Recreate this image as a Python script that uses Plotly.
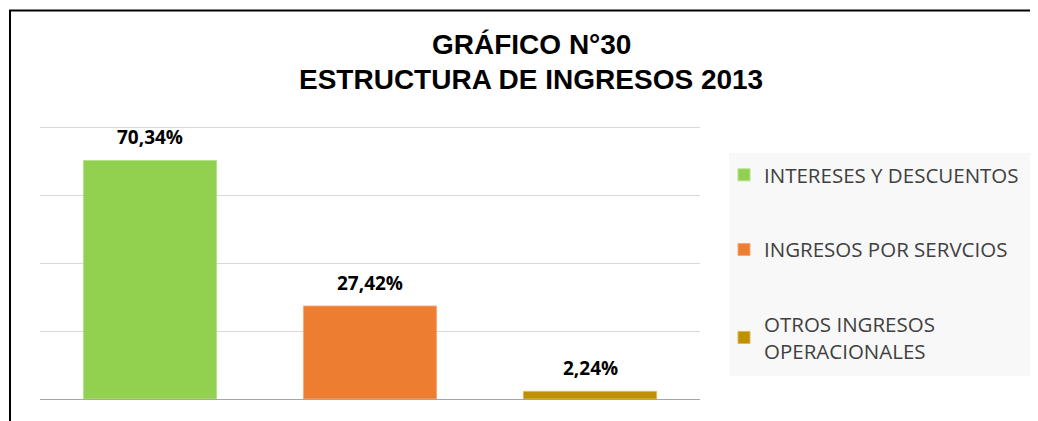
import plotly.graph_objects as go

categories = ["INTERESES Y DESCUENTOS", "INGRESOS POR SERVCIOS", "OTROS INGRESOS OPERACIONALES"]
legend_names = ["INTERESES Y DESCUENTOS", "INGRESOS POR SERVCIOS", "OTROS INGRESOS<br>OPERACIONALES"]
values = [70.34, 27.42, 2.24]
colors = ["#92D050", "#ED7D31", "#BF9000"]
line_colors = ["#B5E08A", "#F4A878", "#D9B85A"]
title_lines = ["GRÁFICO N°30", "ESTRUCTURA DE INGRESOS 2013"]

OFF = 8  # default page margin of the html body
W, H = 1038 - OFF, 421 - OFF
Y_MAX = 80.5
plot_left, plot_right, base_y = 40, 700, 399
ph = 271 * Y_MAX / 80
L = plot_left - OFF
R = 1038 - plot_right
B = 421 - base_y
T = int(round(base_y - ph - OFF))
ph = H - T - B
pw = W - L - R


def px_x(p):  # screen pixel -> paper x
    return (p - OFF - L) / pw


def px_y(p):  # screen pixel -> paper y
    return (H - B - (p - OFF)) / ph


fig = go.Figure()
for i, (cat, name, v, c, lc) in enumerate(zip(categories, legend_names, values, colors, line_colors)):
    fig.add_trace(go.Bar(
        x=[cat], y=[v], name=name, width=0.605,
        marker=dict(color=c, line=dict(color=lc, width=1)),
        legendgroup=f"g{i}", hoverinfo="skip",
    ))
    fig.add_annotation(
        x=cat, y=v, text=f"<b>{v:.2f}%</b>".replace(".", ","),
        showarrow=False, yanchor="bottom", yshift=8,
        font=dict(family="Open Sans", size=19, color="#000000"),
    )

# title lines
for line, yc in zip(title_lines, [45, 80]):
    fig.add_annotation(
        xref="paper", yref="paper", x=px_x(531), y=px_y(yc),
        xanchor="center", yanchor="middle", showarrow=False,
        text=f"<b>{line}</b>",
        font=dict(family="Liberation Sans", size=28, color="#000000"),
    )

# legend background box
fig.add_shape(type="rect", xref="paper", yref="paper", layer="below",
              x0=px_x(729), x1=px_x(1034), y0=px_y(153), y1=px_y(376),
              fillcolor="#F8F8F8", line=dict(width=0))

# outer border (top and left lines)
fig.add_shape(type="line", xref="paper", yref="paper",
              x0=px_x(9), x1=px_x(1045), y0=px_y(10.5), y1=px_y(10.5),
              line=dict(color="#000000", width=2))
fig.add_shape(type="line", xref="paper", yref="paper",
              x0=px_x(10), x1=px_x(10), y0=px_y(10.5), y1=px_y(430),
              line=dict(color="#000000", width=2))

fig.update_layout(
    width=W, height=H,
    margin=dict(l=L, r=R, t=T, b=B),
    paper_bgcolor="white", plot_bgcolor="white",
    barmode="overlay",
    xaxis=dict(showticklabels=False, showgrid=False, zeroline=False,
               showline=True, linecolor="#A6A6A6", linewidth=1,
               range=[-0.5, 2.5], fixedrange=True),
    yaxis=dict(range=[0, Y_MAX], dtick=20, showticklabels=False,
               showgrid=True, gridcolor="#D9D9D9", gridwidth=1,
               zeroline=False, showline=False, fixedrange=True),
    legend=dict(
        x=px_x(724), y=px_y(155), xanchor="left", yanchor="top",
        bgcolor="rgba(0,0,0,0)", font=dict(family="Open Sans", size=20.5, color="#404040"),
        tracegroupgap=45, itemwidth=30,
    ),
    showlegend=True,
)

fig.write_html("out.html")
